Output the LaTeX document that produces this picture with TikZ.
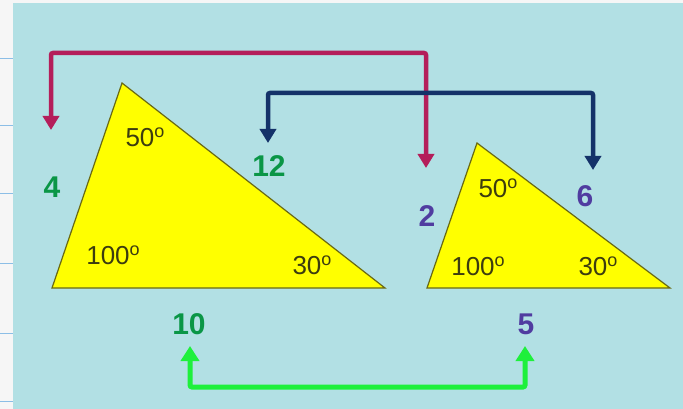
\documentclass[tikz,border=0pt]{standalone}
\usepackage{fontspec}
\setmainfont{Liberation Sans}
\usetikzlibrary{arrows.meta}
\definecolor{bgcyan}{RGB}{178,224,228}
\definecolor{stripw}{RGB}{246,246,246}
\definecolor{tick}{RGB}{140,190,230}
\definecolor{triyel}{RGB}{255,255,0}
\definecolor{triedge}{RGB}{105,105,20}
\definecolor{angtxt}{RGB}{60,60,15}
\definecolor{lgreen}{RGB}{10,150,70}
\definecolor{lpurple}{RGB}{80,60,160}
\definecolor{magar}{RGB}{180,30,90}
\definecolor{navyar}{RGB}{20,50,105}
\definecolor{brgreen}{RGB}{30,240,60}
\tikzset{
  tri/.style={fill=triyel,draw=triedge,line width=1.2pt,line join=miter},
  ang/.style={text=angtxt,font=\fontsize{26}{26}\selectfont,inner sep=0pt},
  sidelab/.style={font=\bfseries\fontsize{30}{30}\selectfont,inner sep=0pt},
  glab/.style={sidelab,text=lgreen},
  plab/.style={sidelab,text=lpurple},
  conn/.style={line width=4.5pt,rounded corners=2pt,
    {Triangle[width=16pt,length=14pt]}-{Triangle[width=16pt,length=14pt]}},
  magconn/.style={conn,draw=magar},
  navconn/.style={conn,draw=navyar},
  grnconn/.style={conn,draw=brgreen,line width=5pt,
    {Triangle[width=18pt,length=15pt]}-{Triangle[width=18pt,length=15pt]}},
}
\newcommand{\dg}{\raisebox{0.33em}{\fontsize{18}{18}\selectfont o}}
\begin{document}
\begin{tikzpicture}[x=1pt,y=-1pt]
\useasboundingbox (0,0) rectangle (683,409);
% background
\fill[stripw] (0,0) rectangle (683,409);
\fill[bgcyan] (13,3) rectangle (683,409);
\foreach \yy in {58,125,193,263,333,401}
  \draw[tick,line width=0.8pt] (0,\yy) -- (13,\yy);
% triangles
\draw[tri] (52,288) -- (122,83) -- (385,288) -- cycle;
\draw[tri] (427,288) -- (477,143) -- (670,288) -- cycle;
% angle labels
\node[ang] (a1t) at (145,137) {50\dg};
\node[ang] (a1l) at (113,255) {100\dg};
\node[ang] (a1r) at (312,265) {30\dg};
\node[ang] (a2t) at (498,188) {50\dg};
\node[ang] (a2l) at (478,266) {100\dg};
\node[ang] (a2r) at (598,266) {30\dg};
% side labels
\node[glab] (s4) at (52,187) {4};
\node[glab] (s12) at (269,166) {12};
\node[glab] (s10) at (189,324) {10};
\node[plab] (s2) at (427,216) {2};
\node[plab] (s6) at (585,196) {6};
\node[plab] (s5) at (526,324) {5};
% connector end points
\coordinate (mL) at (51,130);
\coordinate (mR) at (426,168);
\coordinate (mT) at (200,53);
\coordinate (nL) at (268,143);
\coordinate (nR) at (593,170);
\coordinate (nT) at (400,93);
\coordinate (gL) at (190,346);
\coordinate (gR) at (525,346);
\coordinate (gB) at (350,387);
% connectors
\draw[magconn] (mL) |- (mT) -| (mR);
\draw[navconn] (nL) |- (nT) -| (nR);
\draw[grnconn] (gL) |- (gB) -| (gR);
\end{tikzpicture}
\end{document}
